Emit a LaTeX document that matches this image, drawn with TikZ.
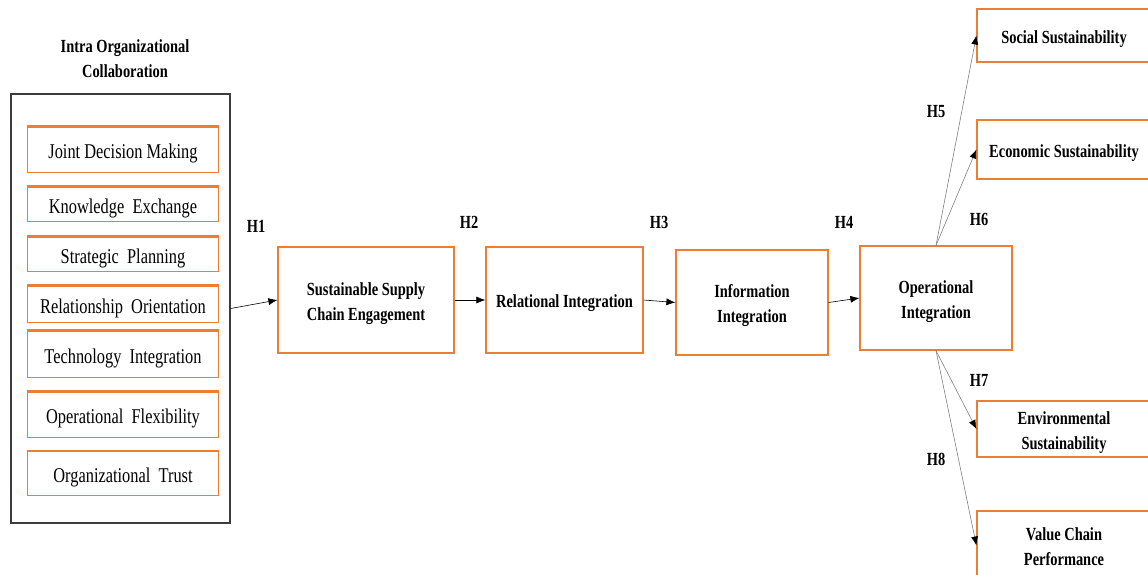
\documentclass[tikz,border=0pt]{standalone}
\usepackage{fontspec}
\setmainfont{Liberation Serif}[FakeStretch=0.78]
\usepackage{tikz}
\usetikzlibrary{arrows.meta}
\definecolor{boxorange}{RGB}{237,125,49}
\definecolor{darkline}{RGB}{60,60,60}

\begin{document}
\begin{tikzpicture}[x=1pt, y=-1pt,
  item/.style={draw=boxorange, line width=0.9pt, minimum width=191pt,
               inner sep=0pt},
  itemtext/.style={font=\fontsize{21}{24}\selectfont, yshift=-4pt},
  construct/.style={draw=boxorange, line width=1.2pt, inner sep=0pt},
  ctext/.style={font=\fontsize{18.5}{25}\selectfont\bfseries,
               align=center, yshift=-3.5pt},
  hyp/.style={font=\fontsize{18.5}{22}\selectfont\bfseries},
  link/.style={-{Latex[length=9pt, width=7pt]}, line width=0.6pt},
  fan/.style={-{Latex[length=9pt, width=7pt, color=black]}, line width=0.6pt,
              draw=gray},
]
\useasboundingbox (0,0) rectangle (1148,574);

%% Intra organizational collaboration block
\node[font=\fontsize{18.5}{25}\selectfont\bfseries, align=center] (title)
  at (125,59) {Intra Organizational\\Collaboration};
\node[draw=darkline, line width=1.1pt, minimum width=219pt,
      minimum height=429pt, inner sep=0pt] (outer) at (120.5,308.5) {};

\foreach \i/\y/\h/\t/\txt in {1/149.5/45/2.5/Joint Decision Making,
                              2/204/34/2.5/Knowledge~~Exchange,
                              3/254/34/2.5/Strategic~~Planning,
                              4/304/36/2.5/Relationship~~Orientation,
                              5/354/46/2.5/Technology~~Integration,
                              6/414.5/45/2.5/Operational~~Flexibility,
                              7/473/44/0.9/Organizational~~Trust}{
  \node[item, minimum height=\h pt,
        label={[itemtext]center:\txt}] (b\i) at (123,\y) {};
  \draw[boxorange, line width=\t pt] (b\i.north west) -- (b\i.north east);
}

%% Chain of constructs
\node[construct, minimum width=176pt, minimum height=106pt,
      label={[ctext]center:{Sustainable Supply\\Chain Engagement}}] (ssce)
  at (366,300) {};
\node[construct, minimum width=157pt, minimum height=106pt,
      label={[ctext]center:{Relational Integration}}] (ri)
  at (564.5,300) {};
\node[construct, minimum width=152pt, minimum height=105pt,
      label={[ctext]center:{Information\\Integration}}] (ii)
  at (752,302.5) {};
\node[construct, minimum width=152pt, minimum height=104pt,
      label={[ctext]center:{Operational\\Integration}}] (oi)
  at (936,298) {};

%% Outcomes (cut at the page edge)
\node[construct, minimum width=174pt, minimum height=53pt,
      label={[ctext]center:{Social Sustainability}}] (soc)
  at (1064,35.5) {};
\node[construct, minimum width=174pt, minimum height=59pt,
      label={[ctext]center:{Economic Sustainability}}] (eco)
  at (1064,149.5) {};
\node[construct, minimum width=174pt, minimum height=56pt,
      label={[ctext]center:{Environmental\\Sustainability}}] (env)
  at (1064,429) {};
\node[construct, minimum width=174pt, minimum height=69pt,
      label={[ctext, yshift=2.5pt]center:{Value Chain\\Performance}}] (vcp)
  at (1064,545.5) {};

%% Paths
\draw[link] (outer.east) -- (ssce.west);
\draw[link] (ssce.east) -- (ri.west);
\draw[link] (ri.east) -- (ii.west);
\draw[link] (ii.east) -- (oi.west);
\draw[fan] (oi.north) -- (soc.west);
\draw[fan] (oi.north) -- (eco.west);
\draw[fan] (oi.south) -- (env.west);
\draw[fan] (oi.south) -- (vcp.west);

%% Hypotheses
\foreach \n/\x/\y in {1/256/226, 2/469/222, 3/659/222, 4/844/222,
                      5/936/112, 6/979/219, 7/979/380, 8/936/459}{
  \node[hyp] (h\n) at (\x,\y) {H\n};
}
\end{tikzpicture}
\end{document}
